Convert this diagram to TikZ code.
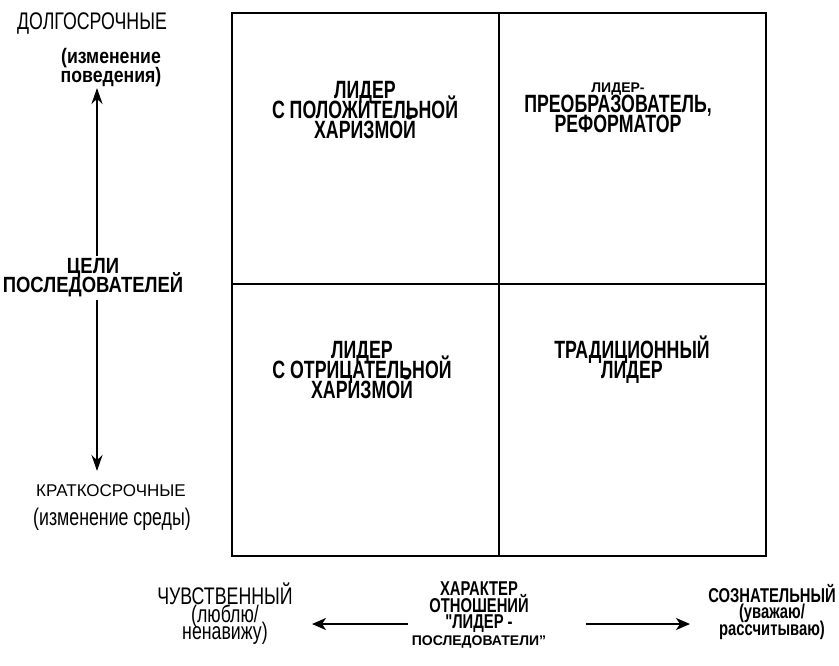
\documentclass[tikz,border=0pt]{standalone}
\usepackage{fontspec}
\setmainfont{Liberation Sans}
\newfontfamily\narrowsans{Liberation Sans}[FakeStretch=0.84]
\newfontfamily\condsans{Liberation Sans}[FakeStretch=0.71]
\newfontfamily\slimsans{Liberation Sans}[FakeStretch=0.74]
\newcommand\smallwide{\rmfamily\bfseries\fontsize{14}{15}\selectfont}
\newcommand\tightlines{\lineskiplimit-20pt\relax}
\usetikzlibrary{positioning,arrows.meta}

\begin{document}
\begin{tikzpicture}[x=1pt, y=-1pt,
  every node/.style={inner sep=0pt, align=center},
  field/.style={font={\condsans\bfseries\fontsize{25}{20}\selectfont\tightlines}},
  heading/.style={font={\narrowsans\bfseries\fontsize{#1}{19}\selectfont\tightlines}},
  heading/.default=22,
  slimhead/.style={font={\slimsans\bfseries\fontsize{#1}{16.5}\selectfont\tightlines}},
  slimhead/.default=20,
  plain/.style={font={\slimsans\fontsize{24}{17.5}\selectfont\tightlines}},
  widecaps/.style={font={\fontsize{17}{18}\selectfont}},
  axis/.style={line width=2.6pt, -{Stealth[length=16pt, width=11pt]}},
  flow/.style={line width=1.8pt, -{Stealth[length=14pt, width=12pt, inset=4pt]}}]

  \useasboundingbox (0,0) rectangle (839,666);

  % the four fields
  \draw[line width=2.2pt] (232,13) rectangle (766,556);
  \draw[line width=1.8pt] (499,13) -- (499,556);
  \draw[line width=1.8pt] (232,284) -- (766,284);

  \node[field] (poscharisma) at (365,110) {ЛИДЕР\\С ПОЛОЖИТЕЛЬНОЙ\\ХАРИЗМОЙ};
  \node[field] (reformer) at (618,108) {{\smallwide ЛИДЕР-}\\ПРЕОБРАЗОВАТЕЛЬ,\\РЕФОРМАТОР};
  \node[field] (negcharisma) at (362,370) {ЛИДЕР\\С ОТРИЦАТЕЛЬНОЙ\\ХАРИЗМОЙ};
  \node[field] (traditional) at (632,360) {ТРАДИЦИОННЫЙ\\ЛИДЕР};

  % vertical axis
  \node[plain] (longterm) at (92,24) {ДОЛГОСРОЧНЫЕ};
  \node[heading=21] (longsub) at (111,68) {(изменение\\поведения)};
  \node[heading] (goals) at (93,278) {ЦЕЛИ\\ПОСЛЕДОВАТЕЛЕЙ};
  \node[widecaps] (shortterm) at (111,491) {КРАТКОСРОЧНЫЕ};
  \node[plain] (shortsub) at (112,519) {(изменение среды)};

  \coordinate (axistop) at (97,88);
  \coordinate (axisbottom) at (97,471);
  \draw[axis, shorten <=3pt] (goals.north -| axistop) -- (axistop);
  \draw[axis, shorten <=3pt] (goals.south -| axisbottom) -- (axisbottom);

  % horizontal axis
  \node[plain] (emotional) at (225,614) {ЧУВСТВЕННЫЙ\\(люблю/\\ненавижу)};
  \node[slimhead] (relation) at (479,615) {ХАРАКТЕР\\ОТНОШЕНИЙ\\"ЛИДЕР -\\{\smallwide ПОСЛЕДОВАТЕЛИ"}};
  \node[slimhead] (rational) at (772,612) {СОЗНАТЕЛЬНЫЙ\\(уважаю/\\рассчитываю)};

  \coordinate (feelend) at (312,624);
  \coordinate (mindend) at (690,624);
  \draw[flow, shorten <=4pt] (relation.west |- feelend) -- (feelend);
  \draw[flow, shorten <=40pt] (relation.east |- mindend) -- (mindend);
\end{tikzpicture}
\end{document}
